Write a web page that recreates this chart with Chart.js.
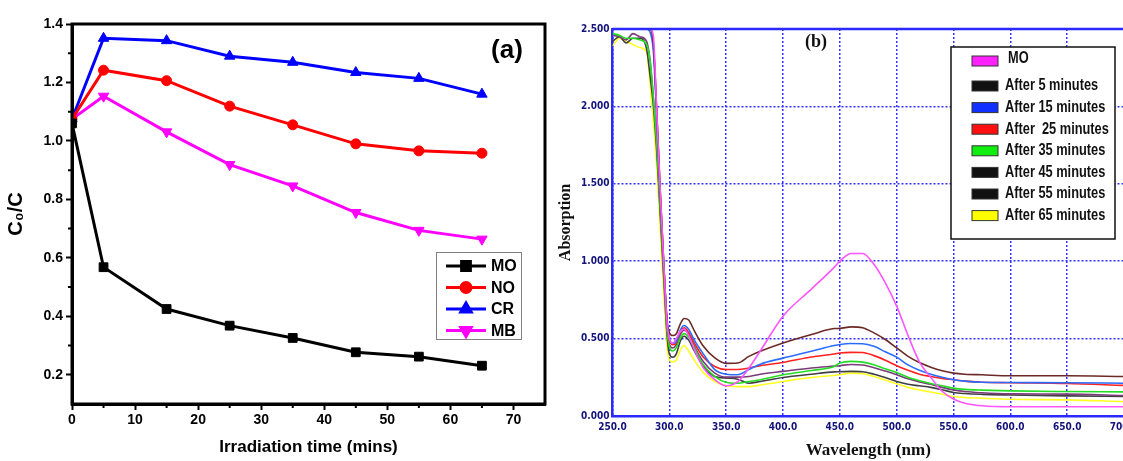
<!DOCTYPE html>
<html>
<head>
<meta charset="utf-8">
<script src="https://cdn.jsdelivr.net/npm/chart.js@4.4.0/dist/chart.umd.min.js"></script>
<style>
html, body { margin: 0; padding: 0; background: #fff; overflow: hidden; width: 1123px; height: 461px; }
#wrapA { position: absolute; left: 0; top: 0; width: 553px; height: 461px; }
#wrapB { position: absolute; left: 553px; top: 0; width: 627px; height: 461px; }
</style>
</head>
<body>
<div id="wrapA"><canvas id="chartA" width="553" height="461"></canvas></div>
<div id="wrapB"><canvas id="chartB" width="627" height="461"></canvas></div>
<script>
// ---- panel (a): C0/C vs irradiation time
const times = [0, 5, 15, 25, 35, 45, 55, 65];
const moRatio = [1.06, 0.568, 0.425, 0.368, 0.326, 0.277, 0.262, 0.231];
const noRatio = [1.075, 1.242, 1.206, 1.119, 1.055, 0.99, 0.966, 0.958];
const crRatio = [1.075, 1.351, 1.343, 1.29, 1.269, 1.234, 1.214, 1.16];
const mbRatio = [1.075, 1.153, 1.031, 0.919, 0.846, 0.755, 0.694, 0.664];
const timeTicks = [0, 10, 20, 30, 40, 50, 60, 70];
const ratioTicks = [0.2, 0.4, 0.6, 0.8, 1.0, 1.2, 1.4];

// ---- panel (b): absorption spectra
const wavelengths = [250, 256, 262, 268, 274, 280, 283, 286, 289, 292, 295, 298,
    300, 303, 306, 310, 313, 317, 322, 330, 340, 350, 360, 370, 380,
    400, 425, 445, 450, 460, 470, 480, 490, 500, 510, 520, 530, 540, 550, 560, 575, 600, 650, 700];
const absMO = [2.5, 2.5, 2.5, 2.5, 2.5, 2.5, 2.5, 2.45, 1.95, 1.45, 1.0, 0.6,
    0.5, 0.47, 0.5, 0.55, 0.56, 0.52, 0.43, 0.31, 0.235, 0.195, 0.22, 0.31, 0.42,
    0.645, 0.82, 0.96, 1.0, 1.05, 1.05, 0.98, 0.86, 0.71, 0.52, 0.35, 0.25, 0.16, 0.11, 0.082, 0.066, 0.06, 0.06, 0.06];
const abs5 = [2.5, 2.5, 2.5, 2.5, 2.5, 2.5, 2.5, 2.4, 1.95, 1.45, 1.0, 0.62,
    0.54, 0.52, 0.53, 0.6, 0.63, 0.62, 0.55, 0.45, 0.375, 0.34, 0.342, 0.385, 0.418,
    0.472, 0.526, 0.565, 0.566, 0.576, 0.57, 0.537, 0.494, 0.44, 0.385, 0.345, 0.315, 0.292, 0.277, 0.27, 0.266, 0.26, 0.26, 0.255];
const abs15 = [2.5, 2.5, 2.5, 2.5, 2.5, 2.5, 2.48, 2.35, 1.9, 1.4, 0.98, 0.6,
    0.5, 0.47, 0.48, 0.56, 0.585, 0.56, 0.49, 0.4, 0.3, 0.27, 0.266, 0.3, 0.335,
    0.374, 0.418, 0.455, 0.462, 0.468, 0.467, 0.45, 0.415, 0.38, 0.33, 0.295, 0.27, 0.25, 0.234, 0.225, 0.218, 0.216, 0.215, 0.212];
const abs25 = [2.5, 2.5, 2.5, 2.5, 2.5, 2.5, 2.5, 2.4, 1.95, 1.45, 1.0, 0.6,
    0.49, 0.46, 0.47, 0.55, 0.57, 0.54, 0.47, 0.38, 0.32, 0.3, 0.3, 0.31, 0.325,
    0.346, 0.381, 0.4, 0.407, 0.411, 0.41, 0.39, 0.36, 0.325, 0.295, 0.27, 0.255, 0.243, 0.234, 0.225, 0.218, 0.215, 0.21, 0.198];
const abs35 = [2.47, 2.46, 2.44, 2.44, 2.43, 2.4, 2.3, 2.05, 1.75, 1.35, 0.95, 0.55,
    0.45, 0.42, 0.44, 0.51, 0.532, 0.51, 0.44, 0.33, 0.255, 0.218, 0.212, 0.223, 0.234,
    0.266, 0.294, 0.32, 0.342, 0.353, 0.348, 0.331, 0.305, 0.281, 0.25, 0.228, 0.21, 0.195, 0.18, 0.172, 0.167, 0.162, 0.158, 0.156];
const abs45 = [2.46, 2.45, 2.43, 2.47, 2.45, 2.42, 2.3, 2.05, 1.75, 1.35, 0.95, 0.57,
    0.46, 0.44, 0.46, 0.53, 0.554, 0.53, 0.45, 0.35, 0.277, 0.251, 0.251, 0.255, 0.27,
    0.288, 0.31, 0.322, 0.325, 0.333, 0.329, 0.312, 0.29, 0.266, 0.24, 0.22, 0.205, 0.185, 0.169, 0.158, 0.15, 0.143, 0.141, 0.132];
const abs55 = [2.42, 2.45, 2.41, 2.44, 2.44, 2.37, 2.2, 2.0, 1.7, 1.3, 0.9, 0.52,
    0.4, 0.38, 0.4, 0.49, 0.515, 0.49, 0.42, 0.32, 0.255, 0.245, 0.238, 0.212, 0.223,
    0.249, 0.27, 0.285, 0.286, 0.288, 0.286, 0.27, 0.248, 0.223, 0.205, 0.195, 0.185, 0.17, 0.152, 0.145, 0.14, 0.136, 0.13, 0.126];
const abs65 = [2.39, 2.44, 2.42, 2.4, 2.38, 2.35, 2.15, 1.9, 1.6, 1.2, 0.8, 0.45,
    0.36, 0.35, 0.36, 0.43, 0.455, 0.42, 0.36, 0.28, 0.223, 0.195, 0.19, 0.19, 0.2,
    0.223, 0.249, 0.262, 0.266, 0.277, 0.273, 0.255, 0.232, 0.208, 0.185, 0.168, 0.155, 0.14, 0.126, 0.12, 0.115, 0.108, 0.104, 0.093];
const spectraLabels = ['MO', 'After 5 minutes', 'After 15 minutes', 'After  25 minutes',
    'After 35 minutes', 'After 45 minutes', 'After 55 minutes', 'After 65 minutes'];
const lineColors = ['#ff55ff', '#6b2a25', '#2a6cff', '#ff2020', '#22dd22', '#7a3c7a', '#404040', '#ffff22'];
const swatchColors = ['#ff22ff', '#111111', '#1030ff', '#ff1010', '#10ee10', '#111111', '#111111', '#ffff00'];
const waveTicks = [250, 300, 350, 400, 450, 500, 550, 600, 650, 700];
const absTicks = [0, 0.5, 1.0, 1.5, 2.0, 2.5];

const pairs = (xs, ys) => xs.map((x, i) => ({ x: x, y: ys[i] }));

// ---------- chart (a)
const panelA = {
    id: 'panelA',
    afterDraw(chart) {
        const ctx = chart.ctx;
        const a = chart.chartArea;
        const xs = chart.scales.x, ys = chart.scales.y;
        ctx.save();
        ctx.strokeStyle = '#000';
        ctx.lineWidth = 3;
        ctx.strokeRect(a.left, a.top, a.right - a.left, a.bottom - a.top);
        // minor ticks
        ctx.lineWidth = 2;
        ctx.beginPath();
        for (let v = 5; v < 75; v += 10) {
            const px = xs.getPixelForValue(v);
            ctx.moveTo(px, a.bottom); ctx.lineTo(px, a.bottom + 4);
        }
        for (let v = 0.3; v < 1.4; v += 0.2) {
            const py = ys.getPixelForValue(v);
            ctx.moveTo(a.left, py); ctx.lineTo(a.left - 4, py);
        }
        ctx.stroke();
        // panel tag
        ctx.fillStyle = '#000';
        ctx.font = 'bold 26px "Liberation Sans", Arial, sans-serif';
        ctx.textAlign = 'center';
        ctx.textBaseline = 'middle';
        ctx.fillText('(a)', 507, 51);
        // legend
        const bx = 436, by = 252, bw = 85, bh = 87;
        ctx.lineWidth = 1;
        ctx.strokeStyle = '#808080';
        ctx.strokeRect(bx + 0.5, by + 0.5, bw, bh);
        chart.data.datasets.forEach((ds, i) => {
            const y = by + 14 + i * 21.5;
            ctx.strokeStyle = ds.borderColor;
            ctx.lineWidth = 3;
            ctx.beginPath();
            ctx.moveTo(446, y); ctx.lineTo(486, y);
            ctx.stroke();
            Chart.helpers.drawPoint(ctx, {
                pointStyle: ds.pointStyle, radius: ds.pointRadius, rotation: ds.rotation || 0, borderWidth: 1
            }, 466, y);
            ctx.fillStyle = ds.borderColor;
            ctx.fill();
            ctx.fillStyle = '#000';
            ctx.font = 'bold 16px "Liberation Sans", Arial, sans-serif';
            ctx.textAlign = 'left';
            ctx.fillText(ds.label, 491, y + 1);
        });
        ctx.restore();
    }
};

function lineSet(label, color, data, style, radius, rotation) {
    return {
        label: label,
        data: pairs(times, data),
        borderColor: color,
        backgroundColor: color,
        borderWidth: 3,
        pointStyle: style,
        pointRadius: radius,
        rotation: rotation || 0,
        pointBorderWidth: 1,
        tension: 0
    };
}

new Chart(document.getElementById('chartA'), {
    type: 'line',
    data: {
        datasets: [
            lineSet('MO', '#000000', moRatio, 'rect', 6.2),
            lineSet('NO', '#ff0000', noRatio, 'circle', 5),
            lineSet('CR', '#0000ff', crRatio, 'triangle', 6),
            lineSet('MB', '#ff00ff', mbRatio, 'triangle', 6, 180)
        ]
    },
    options: {
        responsive: false,
        animation: false,
        layout: { padding: { left: 0, top: 24, right: 8, bottom: 0 } },
        plugins: { legend: { display: false }, tooltip: { enabled: false } },
        scales: {
            x: {
                type: 'linear', min: 0, max: 75,
                afterBuildTicks: s => { s.ticks = timeTicks.map(v => ({ value: v })); },
                afterFit: s => { s.height = 57; },
                grid: { drawOnChartArea: false, tickLength: 6, tickWidth: 2, tickColor: '#000' },
                border: { color: '#000', width: 3 },
                ticks: { color: '#000', padding: 2, font: { family: '"Liberation Sans", Arial', size: 14, weight: 'bold' } },
                title: { display: true, text: 'Irradiation time (mins)', color: '#000', padding: { top: 0, bottom: 3 },
                    font: { family: '"Liberation Sans", Arial', size: 17, weight: 'bold' } }
            },
            y: {
                type: 'linear', min: 0.1, max: 1.4,
                afterBuildTicks: s => { s.ticks = ratioTicks.map(v => ({ value: v })); },
                afterFit: s => { s.width = 72; },
                grid: { drawOnChartArea: false, tickLength: 6, tickWidth: 2, tickColor: '#000' },
                border: { color: '#000', width: 3 },
                ticks: { color: '#000', padding: 3, callback: v => v.toFixed(1),
                    font: { family: '"Liberation Sans", Arial', size: 14, weight: 'bold' } },
                title: { display: true, text: 'C\u2080/C', color: '#000', padding: { top: 4, bottom: 0 },
                    font: { family: '"Liberation Sans", Arial', size: 20, weight: 'bold' } }
            }
        }
    },
    plugins: [panelA]
});

// ---------- chart (b)
const panelB = {
    id: 'panelB',
    afterDraw(chart) {
        const ctx = chart.ctx;
        const a = chart.chartArea;
        ctx.save();
        ctx.strokeStyle = '#2a2aff';
        ctx.lineWidth = 2.5;
        ctx.beginPath();
        ctx.moveTo(a.left, a.top); ctx.lineTo(chart.width, a.top);
        ctx.stroke();
        ctx.fillStyle = '#111';
        ctx.font = 'bold 18px "Liberation Serif", "Times New Roman", serif';
        ctx.textAlign = 'center';
        ctx.textBaseline = 'middle';
        ctx.fillText('(b)', 263, 42);
        // legend box
        const bx = 398, by = 47, bw = 164, bh = 192;
        ctx.fillStyle = '#fff';
        ctx.fillRect(bx, by, bw, bh);
        ctx.strokeStyle = '#111';
        ctx.lineWidth = 1.5;
        ctx.strokeRect(bx, by, bw, bh);
        spectraLabels.forEach((lab, i) => {
            const y = i === 0 ? 61 : 86 + (i - 1) * 21.6;
            ctx.fillStyle = swatchColors[i];
            ctx.fillRect(419, y - 5, 26, 10);
            ctx.strokeStyle = '#333';
            ctx.lineWidth = 1;
            ctx.strokeRect(419, y - 5, 26, 10);
            ctx.save();
            ctx.translate(i === 0 ? 455 : 452, y);
            ctx.scale(0.8, 1);
            ctx.fillStyle = '#111';
            ctx.font = 'bold 16px "Liberation Sans", Arial, sans-serif';
            ctx.textAlign = 'left';
            ctx.fillText(lab, 0, i === 0 ? -2 : 0);
            ctx.restore();
        });
        ctx.restore();
    }
};

const spectra = [absMO, abs5, abs15, abs25, abs35, abs45, abs55, abs65];

new Chart(document.getElementById('chartB'), {
    type: 'line',
    data: {
        datasets: spectra.map((vals, i) => ({
            label: spectraLabels[i],
            data: pairs(wavelengths, vals),
            borderColor: lineColors[i],
            borderWidth: 1.6,
            pointRadius: 0,
            cubicInterpolationMode: 'monotone'
        }))
    },
    options: {
        responsive: false,
        animation: false,
        layout: { padding: { left: 0, top: 29, right: 56, bottom: 0 } },
        plugins: { legend: { display: false }, tooltip: { enabled: false } },
        scales: {
            x: {
                type: 'linear', min: 250, max: 700,
                afterBuildTicks: s => { s.ticks = waveTicks.map(v => ({ value: v })); },
                afterFit: s => { s.height = 45; },
                grid: { color: '#3030ff', lineWidth: 1.5, drawTicks: false },
                border: { color: '#2a2aff', width: 2.5, dash: [2, 2] },
                ticks: { color: '#12127a', padding: 5, callback: v => v.toFixed(1),
                    font: { family: '"Liberation Sans Narrow", "DejaVu Sans Condensed", "Liberation Sans"', size: 10, weight: 'bold' } },
                title: { display: true, text: 'Wavelength (nm)', color: '#111', padding: { top: 0, bottom: 0 },
                    font: { family: '"Liberation Serif", "Times New Roman", serif', size: 17, weight: 'bold' } }
            },
            y: {
                type: 'linear', min: 0, max: 2.5,
                afterBuildTicks: s => { s.ticks = absTicks.map(v => ({ value: v })); },
                afterFit: s => { s.width = 59.5; },
                grid: { color: '#3030ff', lineWidth: 1.5, drawTicks: false },
                border: { color: '#2a2aff', width: 2.5, dash: [2, 2] },
                ticks: { color: '#12127a', padding: 3, callback: v => v.toFixed(3),
                    font: { family: '"Liberation Sans Narrow", "DejaVu Sans Condensed", "Liberation Sans"', size: 10, weight: 'bold' } },
                title: { display: true, text: 'Absorption', color: '#111', padding: { top: 3, bottom: 0 },
                    font: { family: '"Liberation Serif", "Times New Roman", serif', size: 16, weight: 'bold' } }
            }
        }
    },
    plugins: [panelB]
});
</script>
</body>
</html>
